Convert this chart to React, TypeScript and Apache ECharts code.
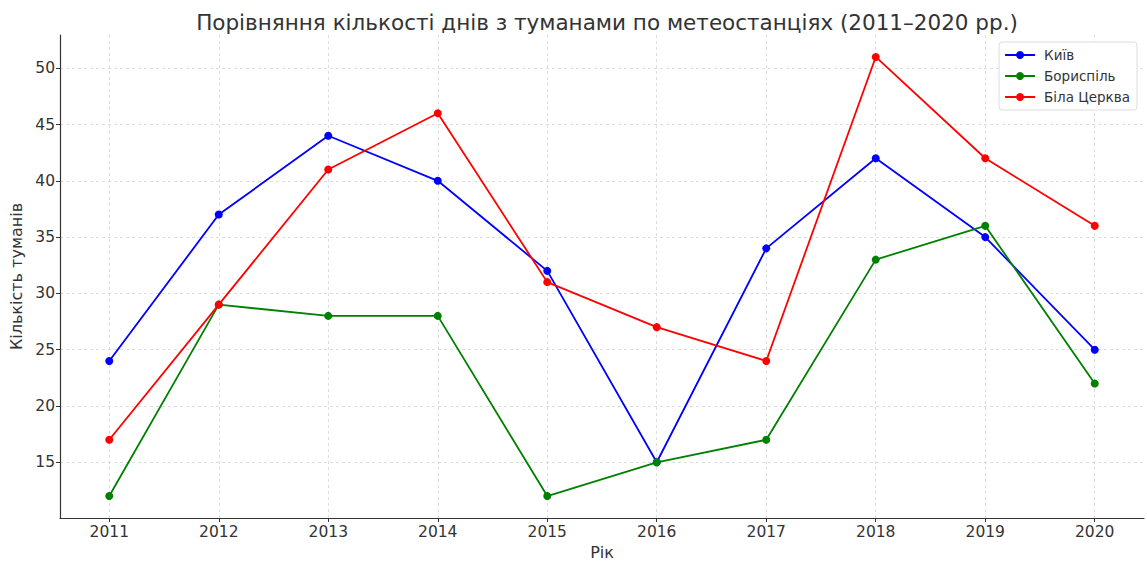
import React, { useEffect, useRef } from "react";
import * as echarts from "echarts";

const years = [2011, 2012, 2013, 2014, 2015, 2016, 2017, 2018, 2019, 2020];
const kyiv = [24, 37, 44, 40, 32, 15, 34, 42, 35, 25];
const boryspil = [12, 29, 28, 28, 12, 15, 17, 33, 36, 22];
const bilaTserkva = [17, 29, 41, 46, 31, 27, 24, 51, 42, 36];
const yTicks = [15, 20, 25, 30, 35, 40, 45, 50];

const FONT = "DejaVu Sans";

export default function App() {
  const ref = useRef<HTMLDivElement>(null);
  useEffect(() => {
    if (!ref.current) return;
    const chart = echarts.init(ref.current, null, { renderer: "svg" });
    const mk = (name: string, data: number[], color: string) => ({
      name,
      type: "line",
      data: years.map((y, i) => [y, data[i]]),
      symbol: "circle",
      symbolSize: 8,
      lineStyle: { color, width: 1.8 },
      itemStyle: { color },
      emphasis: { disabled: true },
    });
    chart.setOption({
      animation: false,
      textStyle: { fontFamily: FONT },
      title: {
        text: "Порівняння кількості днів з туманами по метеостанціях (2011–2020 рр.)",
        left: 602,
        top: 6,
        textAlign: "center",
        textStyle: { fontFamily: FONT, fontSize: 21.5, fontWeight: "normal", color: "#333" },
      },
      legend: {
        orient: "vertical",
        right: 10,
        top: 42,
        itemWidth: 30,
        itemHeight: 10,
        itemGap: 7,
        padding: [6, 7, 6, 5],
        backgroundColor: "#fff",
        borderColor: "#ddd",
        borderWidth: 1,
        borderRadius: 3,
        textStyle: { fontFamily: FONT, fontSize: 13.5, color: "#333", padding: [0, 0, 0, 4] },
        data: ["Київ", "Бориспіль", "Біла Церква"],
      },
      grid: { left: 60, right: 3, top: 35, bottom: 46, outerBoundsMode: "none", containLabel: false },
      xAxis: {
        type: "value",
        min: 2010.55,
        max: 2020.45,
        name: "Рік",
        nameLocation: "middle",
        nameGap: 26,
        nameTextStyle: { fontFamily: FONT, fontSize: 16, color: "#333" },
        axisLine: { show: true, lineStyle: { color: "#333", width: 1.2 } },
        axisTick: { show: true, customValues: years, length: 4, lineStyle: { color: "#333" } },
        axisLabel: {
          customValues: years,
          formatter: (v: number) => String(v),
          fontFamily: FONT,
          fontSize: 15.5,
          color: "#333",
          margin: 6,
        },
        splitLine: { show: true, lineStyle: { color: "#d5d5d5", type: [3, 3], width: 0.8 } },
      },
      yAxis: {
        type: "value",
        min: 10.05,
        max: 52.95,
        name: "Кількість туманів",
        nameLocation: "middle",
        nameGap: 33,
        nameTextStyle: { fontFamily: FONT, fontSize: 16, color: "#333" },
        axisLine: { show: true, lineStyle: { color: "#333", width: 1.2 } },
        axisTick: { show: true, customValues: yTicks, length: 4, lineStyle: { color: "#333" } },
        axisLabel: {
          customValues: yTicks,
          fontFamily: FONT,
          fontSize: 15.5,
          color: "#333",
          margin: 5,
        },
        splitLine: { show: true, lineStyle: { color: "#d5d5d5", type: [3, 3], width: 0.8 } },
      },
      series: [
        mk("Київ", kyiv, "#0000ff"),
        mk("Бориспіль", boryspil, "#008000"),
        mk("Біла Церква", bilaTserkva, "#ff0000"),
      ],
    });
    return () => chart.dispose();
  }, []);
  return (
    <div
      ref={ref}
      style={{ position: "absolute", left: 0, top: 0, width: 1147, height: 564, background: "#fff" }}
    />
  );
}
